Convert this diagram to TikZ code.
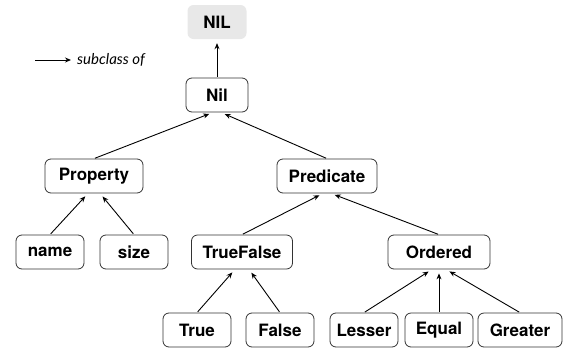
\documentclass[tikz,border=0pt]{standalone}
\usepackage{fontspec}
\setmainfont{TeX Gyre Heros}
\newfontfamily\legendfont{Lato}
\usetikzlibrary{arrows.meta}
\tikzset{
  cls/.style={draw=black!80,line width=0.8pt,rounded corners=6pt,minimum width=68pt,
    minimum height=34pt,inner sep=0pt,font=\fontsize{17}{20}\selectfont\bfseries},
  top/.style={fill=black!9,rounded corners=6pt,minimum width=59pt,minimum height=34pt,
    inner sep=0pt,font=\fontsize{17}{20}\selectfont\bfseries},
  sub/.style={line width=0.9pt,-{Stealth[length=6pt,width=5pt]},shorten >=4pt,shorten <=1pt}
}
\begin{document}
\begin{tikzpicture}[x=1pt,y=-1pt]
   \useasboundingbox (0,0) rectangle (563,349);
   \node[top] (NIL) at (217,22) {NIL};
   \node[cls,minimum width=62pt] (Nil) at (217,95) {Nil};
   \node[cls,minimum width=98pt] (Property) at (94,176) {Property};
   \node[cls,minimum width=100pt] (Predicate) at (327,176) {Predicate};
   \node[cls] (name) at (50,252) {name};
   \node[cls] (size) at (134,252) {size};
   \node[cls,minimum width=101pt] (TrueFalse) at (242,252) {TrueFalse};
   \node[cls,minimum width=102pt] (Ordered) at (439,252) {Ordered};
   \node[cls] (True) at (197,330) {True};
   \node[cls] (False) at (280,330) {False};
   \node[cls] (Lesser) at (364,330) {Lesser};
   \node[cls] (Equal) at (439,330) {Equal};
   \node[cls,minimum width=84pt] (Greater) at (520,330) {Greater};
   % legend
   \coordinate (legend) at (35,60);
   \node[anchor=west,inner sep=0pt,font=\legendfont\itshape\fontsize{15}{18}\selectfont] (subof) at (77,60) {subclass of};
   \draw[sub,shorten >=6pt,shorten <=0pt] (legend) -- (subof.west);
   % subclass arrows
   \draw[sub] (Nil.north) -- (NIL.south);
   \draw[sub] (Property.north) -- ([xshift=-4pt]Nil.south);
   \draw[sub] (Predicate.north) -- ([xshift=4pt]Nil.south);
   \draw[sub] (name.north) -- ([xshift=-6pt]Property.south);
   \draw[sub] (size.north) -- ([xshift=6pt]Property.south);
   \draw[sub] (TrueFalse.north) -- ([xshift=-4pt]Predicate.south);
   \draw[sub] (Ordered.north) -- ([xshift=4pt]Predicate.south);
   \draw[sub] (True.north) -- ([xshift=-7pt]TrueFalse.south);
   \draw[sub] (False.north) -- ([xshift=7pt]TrueFalse.south);
   \draw[sub] (Lesser.north) -- ([xshift=-7pt]Ordered.south);
   \draw[sub] (Equal.north) -- (Ordered.south);
   \draw[sub] (Greater.north) -- ([xshift=7pt]Ordered.south);
\end{tikzpicture}
\end{document}
